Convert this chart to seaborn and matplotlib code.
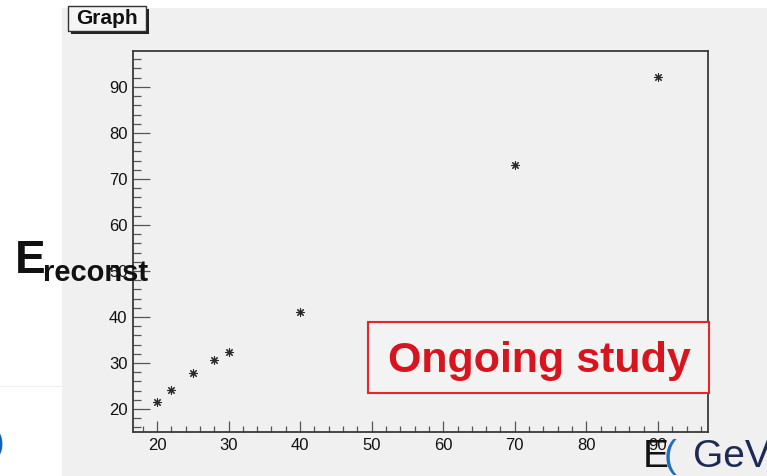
import numpy as np
import pandas as pd
import matplotlib.pyplot as plt
import seaborn as sns
from matplotlib.patches import Rectangle
from matplotlib.lines import Line2D
from matplotlib.ticker import MultipleLocator

# ============================================================
# DATA
# ============================================================
e_true = [20, 22, 25, 28, 30, 40, 70, 90]
e_reco = [21.5, 24.1, 27.9, 30.6, 32.4, 41.1, 73.0, 92.2]

W, H = 767, 476


def fx(px):
    return px / W


def fy(py):
    return 1 - py / H


sns.set_style('ticks')
plt.rcParams['font.family'] = ['Liberation Sans', 'DejaVu Sans']

fig = plt.figure(figsize=(W / 100, H / 100), dpi=100)
fig.patch.set_facecolor('white')

# panel abu-abu (latar slide)
fig.add_artist(Rectangle((fx(62), 0), 1 - fx(62), fy(8), transform=fig.transFigure,
                         facecolor='#f0f0f0', edgecolor='none', zorder=-10))
fig.add_artist(Line2D([0, fx(62)], [fy(386), fy(386)], transform=fig.transFigure,
                      color='#f0f0f0', lw=1, zorder=-9))

# ============================================================
# PLOT
# ============================================================
ax = fig.add_axes([fx(133), fy(432), fx(708) - fx(133), fy(51) - fy(432)])
ax.set_facecolor('#f0f0f0')

df = pd.DataFrame({'E_true': e_true, 'E_reco': e_reco})
sns.scatterplot(data=df, x='E_true', y='E_reco', marker=(8, 2, 0), s=30,
                color='#2a2a2a', linewidth=0.8, ax=ax, zorder=3)

ax.set_xlim(16.65, 97)
ax.set_ylim(15, 97.8)
ax.xaxis.set_major_locator(MultipleLocator(10))
ax.xaxis.set_minor_locator(MultipleLocator(2))
ax.yaxis.set_major_locator(MultipleLocator(10))
ax.yaxis.set_minor_locator(MultipleLocator(2))
ax.set_xlabel('')
ax.set_ylabel('')

ax.tick_params(axis='both', which='both', direction='in', color='#555555',
               width=0.9, labelsize=12, labelcolor='#111111', pad=4)
ax.tick_params(axis='x', which='major', length=8)
ax.tick_params(axis='x', which='minor', length=4.3)
ax.tick_params(axis='y', which='major', length=12)
ax.tick_params(axis='y', which='minor', length=6)

for sp in ax.spines.values():
    sp.set_color('#3a3a3a')
    sp.set_linewidth(1.3)

# ============================================================
# TEKS & KOTAK
# ============================================================
# kotak judul "Graph" dengan bayangan
fig.add_artist(Rectangle((fx(71), fy(34)), fx(78), fy(9) - fy(34), transform=fig.transFigure,
                         facecolor='#222222', edgecolor='none', zorder=4))
fig.add_artist(Rectangle((fx(68), fy(31)), fx(78), fy(6) - fy(31), transform=fig.transFigure,
                         facecolor='#f5f5f5', edgecolor='#333333', lw=1, zorder=5))
fig.text(fx(107), fy(19), 'Graph', fontsize=15, fontweight='bold', color='#111111',
         ha='center', va='center', zorder=6)

# label sumbu y
fig.text(fx(15), fy(273), 'E', fontsize=33, fontweight='bold', color='#111111',
         va='baseline', ha='left', zorder=6)
fig.text(fx(43), fy(281), 'reconst', fontsize=21, fontweight='bold', color='#111111',
         va='baseline', ha='left', zorder=6)

# label sumbu x
fig.text(fx(643), fy(467), 'E', fontsize=28, color='#111111', va='baseline', ha='left', zorder=6)
fig.text(fx(664), fy(467), '(', fontsize=28, color='#1f6fc0', va='baseline', ha='left', zorder=6)
fig.text(fx(693), fy(467), 'GeV', fontsize=28, color='#1c2a55', va='baseline', ha='left', zorder=6)

# sisa karakter biru di kiri bawah
fig.text(fx(-6), fy(452), ')', fontsize=22, color='#1060c0', va='baseline', ha='left', zorder=6)

# kotak "Ongoing study"
fig.add_artist(Rectangle((fx(368), fy(393)), fx(709) - fx(368), fy(322) - fy(393),
                         transform=fig.transFigure, facecolor='#f3f3f3',
                         edgecolor='#e8252a', lw=1.5, zorder=4))
fig.text(fx(539), fy(372), 'Ongoing study', fontsize=31, fontweight='bold', color='#d8141f',
         ha='center', va='baseline', zorder=6)

plt.savefig('out.png', dpi=100)
plt.close()
